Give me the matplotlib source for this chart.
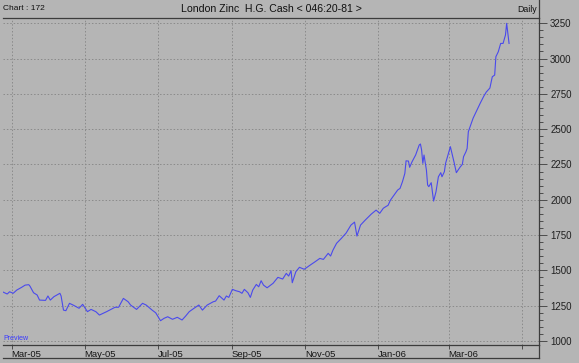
import matplotlib
matplotlib.use('Agg')
import matplotlib.pyplot as plt
import matplotlib.dates as mdates
from matplotlib.ticker import MultipleLocator
from matplotlib.transforms import ScaledTranslation

plt.rcParams['font.family'] = ['Liberation Sans', 'DejaVu Sans']

# 数据
dates = [
    '2005-02-21', '2005-02-25', '2005-02-27', '2005-03-02', '2005-03-05', '2005-03-09',
    '2005-03-12', '2005-03-15', '2005-03-16', '2005-03-19', '2005-03-22', '2005-03-24',
    '2005-03-29', '2005-03-31', '2005-04-02', '2005-04-05', '2005-04-10', '2005-04-11',
    '2005-04-13', '2005-04-15', '2005-04-18', '2005-04-21', '2005-04-26', '2005-04-29',
    '2005-05-03', '2005-05-06', '2005-05-10', '2005-05-13', '2005-05-19', '2005-05-26',
    '2005-05-29', '2005-06-02', '2005-06-06', '2005-06-08', '2005-06-13', '2005-06-18',
    '2005-06-21', '2005-06-26', '2005-06-29', '2005-07-03', '2005-07-06', '2005-07-09',
    '2005-07-13', '2005-07-17', '2005-07-21', '2005-07-24', '2005-07-27', '2005-07-31',
    '2005-08-04', '2005-08-07', '2005-08-11', '2005-08-16', '2005-08-18', '2005-08-21',
    '2005-08-25', '2005-08-27', '2005-08-29', '2005-09-01', '2005-09-04', '2005-09-07',
    '2005-09-09', '2005-09-11', '2005-09-14', '2005-09-16', '2005-09-18', '2005-09-21',
    '2005-09-23', '2005-09-25', '2005-09-27', '2005-09-30', '2005-10-05', '2005-10-09',
    '2005-10-13', '2005-10-16', '2005-10-18', '2005-10-20', '2005-10-21', '2005-10-24',
    '2005-10-27', '2005-10-31', '2005-11-05', '2005-11-09', '2005-11-13', '2005-11-16',
    '2005-11-20', '2005-11-22', '2005-11-24', '2005-11-27', '2005-12-01', '2005-12-05',
    '2005-12-09', '2005-12-12', '2005-12-14', '2005-12-17', '2005-12-21', '2005-12-26',
    '2005-12-30', '2006-01-02', '2006-01-05', '2006-01-07', '2006-01-09', '2006-01-11',
    '2006-01-14', '2006-01-17', '2006-01-19', '2006-01-21', '2006-01-23', '2006-01-24',
    '2006-01-26', '2006-01-27', '2006-01-29', '2006-02-01', '2006-02-04', '2006-02-05',
    '2006-02-06', '2006-02-07', '2006-02-08', '2006-02-10', '2006-02-11', '2006-02-12',
    '2006-02-14', '2006-02-16', '2006-02-18', '2006-02-20', '2006-02-22', '2006-02-23',
    '2006-02-25', '2006-02-26', '2006-02-28', '2006-03-02', '2006-03-03', '2006-03-05',
    '2006-03-07', '2006-03-10', '2006-03-12', '2006-03-13', '2006-03-15', '2006-03-16',
    '2006-03-17', '2006-03-21', '2006-03-25', '2006-03-27', '2006-03-30', '2006-04-01',
    '2006-04-04', '2006-04-06', '2006-04-08', '2006-04-09', '2006-04-11', '2006-04-13',
    '2006-04-15', '2006-04-17', '2006-04-18', '2006-04-19', '2006-04-20',
]
prices = [
    1349, 1333, 1349, 1338, 1361, 1380,
    1396, 1399, 1389, 1342, 1326, 1290,
    1288, 1319, 1290, 1314, 1338, 1319,
    1219, 1215, 1267, 1255, 1232, 1260,
    1208, 1224, 1208, 1184, 1208, 1239,
    1239, 1302, 1278, 1255, 1224, 1267,
    1255, 1219, 1200, 1144, 1161, 1172,
    1154, 1168, 1149, 1177, 1208, 1232,
    1255, 1219, 1255, 1278, 1283, 1321,
    1290, 1319, 1309, 1366, 1356, 1349,
    1338, 1366, 1342, 1309, 1361, 1401,
    1384, 1427, 1396, 1377, 1409, 1451,
    1439, 1479, 1460, 1498, 1413, 1491,
    1522, 1508, 1538, 1561, 1585, 1578,
    1621, 1602, 1644, 1692, 1727, 1765,
    1821, 1842, 1743, 1821, 1857, 1899,
    1927, 1904, 1940, 1951, 1961, 1998,
    2034, 2069, 2081, 2128, 2187, 2276,
    2274, 2230, 2269, 2317, 2388, 2395,
    2352, 2258, 2317, 2211, 2105, 2093,
    2121, 1991, 2057, 2163, 2192, 2163,
    2199, 2258, 2317, 2376, 2340, 2269,
    2192, 2230, 2251, 2305, 2340, 2364,
    2482, 2578, 2650, 2685, 2735, 2763,
    2791, 2871, 2883, 3013, 3048, 3107,
    3107, 3166, 3249, 3178, 3107,
]

tick_dates = ['2005-03-01', '2005-05-01', '2005-07-01', '2005-09-01',
              '2005-11-01', '2006-01-01', '2006-03-01', '2006-05-01']
tick_labels = ['Mar-05', 'May-05', 'Jul-05', 'Sep-05', 'Nov-05', 'Jan-06', 'Mar-06', '']

title = 'London Zinc  H.G. Cash < 046:20-81 >'

bg = '#b5b5b5'
edge = '#3c3c3c'
grid_c = '#8a8a8a'
line_c = '#4a4aec'

W, H = 579, 363
fig = plt.figure(figsize=(W / 100, H / 100), dpi=100, facecolor=bg)


def box(x0, y0, x1, y1):
    # 像素坐标(左上为原点) -> figure 坐标
    return [x0 / W, 1 - y1 / H, (x1 - x0) / W, (y1 - y0) / H]


x = mdates.datestr2num(dates)
ticks = mdates.datestr2num(tick_dates)

# 主图
ax = fig.add_axes(box(3, 18, 539, 345), facecolor=bg)
ax.plot(x, prices, color=line_c, linewidth=0.8)
ax.set_xlim(mdates.datestr2num('2005-02-21') + 0.5, mdates.datestr2num('2006-05-15'))
ax.set_ylim(972, 3287)

ax.set_xticks(ticks)
ax.set_xticklabels(tick_labels, fontsize=6.8, ha='left', color='#151515')
ax.tick_params(axis='x', direction='out', length=3, width=0.6, color=edge, pad=0.5)
for lb in ax.get_xticklabels():
    lb.set_transform(lb.get_transform() + ScaledTranslation(-0.5 / 100, 0, fig.dpi_scale_trans))

ax.yaxis.tick_right()
ax.yaxis.set_major_locator(MultipleLocator(250))
ax.yaxis.set_minor_locator(MultipleLocator(50))
ax.tick_params(axis='y', which='major', direction='out', length=6, width=0.6,
               color=edge, labelsize=7, labelcolor='#202020', pad=2)
ax.tick_params(axis='y', which='minor', direction='out', length=3, width=0.6, color=edge)
ax.grid(True, which='major', color=grid_c, linestyle=(0, (1.5, 2)), linewidth=0.7)

for s in ['top', 'right', 'bottom']:
    ax.spines[s].set_color(edge)
    ax.spines[s].set_linewidth(0.9)
ax.spines['left'].set_visible(False)

ax.text(0.0, 0.008, 'Preview', transform=ax.transAxes, fontsize=5,
        color='#3a3aff', ha='left', va='bottom')

# 日期栏
band = fig.add_axes(box(3, 345, 539, 358), facecolor='none', zorder=-1)
band.set_xticks([])
band.set_yticks([])
for s in ['top', 'left']:
    band.spines[s].set_visible(False)
for s in ['right', 'bottom']:
    band.spines[s].set_color(edge)
    band.spines[s].set_linewidth(0.9)

# 标题栏
fig.text(3 / W, 1 - 9 / H, 'Chart : 172', fontsize=6, ha='left', va='center', color='#101010')
fig.text(271 / W, 1 - 9 / H, title, fontsize=7.6, ha='center', va='center', color='#101010')
fig.text(537 / W, 1 - 9 / H, 'Daily', fontsize=6.3, ha='right', va='center', color='#101010')
fig.add_artist(plt.Line2D([539 / W, 539 / W], [1 - 18 / H, 1.0], color=edge, linewidth=0.9))

fig.savefig('out.png', dpi=100, facecolor=bg)
